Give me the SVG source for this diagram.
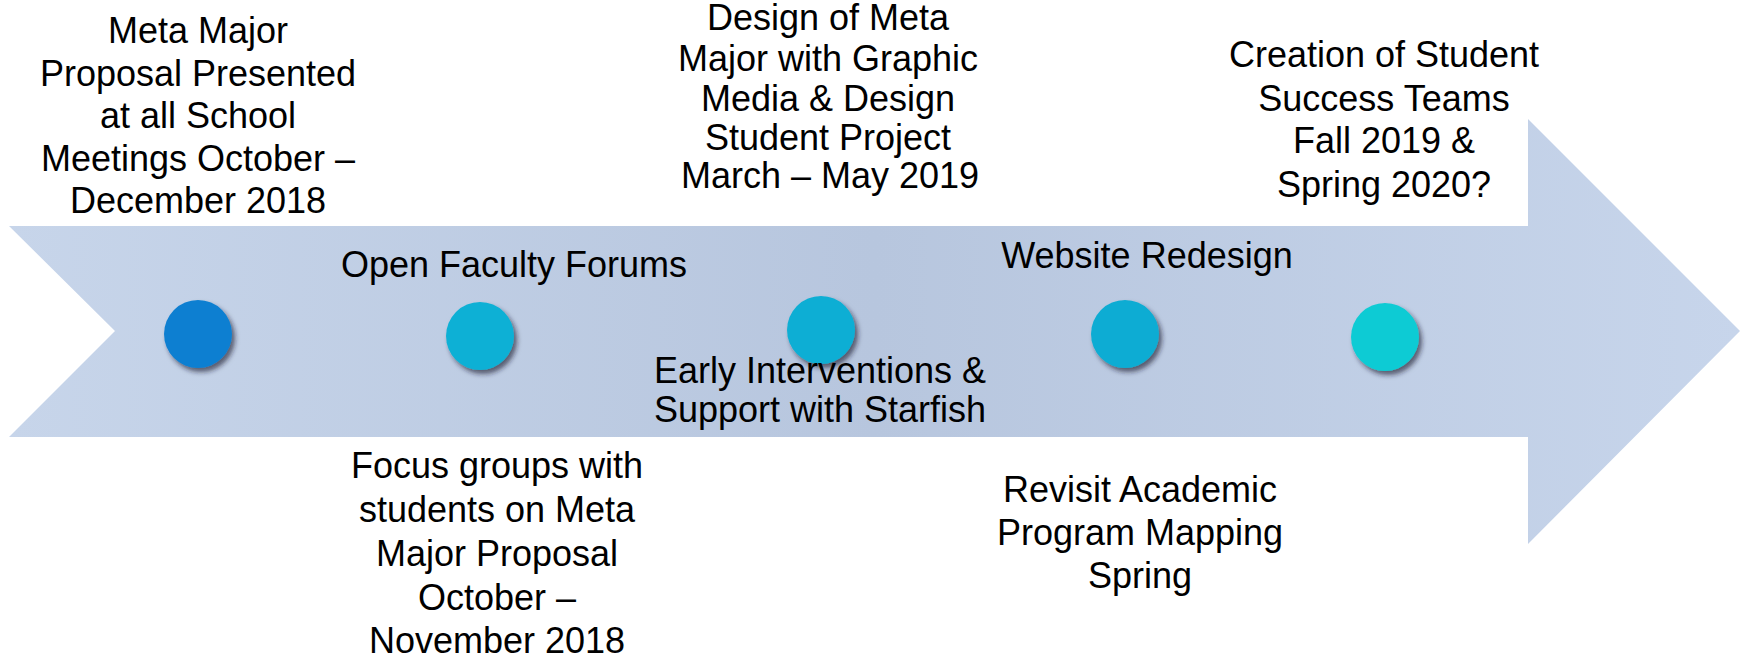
<svg xmlns="http://www.w3.org/2000/svg" width="1747" height="662" viewBox="0 0 1747 662">
  <defs>
    <linearGradient id="bandGrad" x1="0" y1="0" x2="1" y2="0">
      <stop offset="0" stop-color="#c7d5ea"/>
      <stop offset="0.5" stop-color="#b7c6de"/>
      <stop offset="1" stop-color="#c7d5eb"/>
    </linearGradient>
    <filter id="shadow" x="-30%" y="-30%" width="170%" height="170%">
      <feDropShadow dx="3" dy="4" stdDeviation="2.5" flood-color="#1f1f2e" flood-opacity="0.65"/>
    </filter>
    <style>
      .lbl { font-family: "Liberation Sans", Arial, sans-serif; font-size: 36px; fill: #000000; text-anchor: middle; }
      .dot { filter: url(#shadow); }
    </style>
  </defs>
  <rect width="1747" height="662" fill="#ffffff"/>

  <g id="timeline-arrow">
    <polygon points="9,226 1528,226 1528,119 1740,331 1528,544 1528,437 9,437 115,331" fill="url(#bandGrad)"/>
  </g>

  <g id="connectors"></g>

  <g id="marker-1"><circle class="dot" cx="198" cy="334" r="34" fill="#0e7fd1"/></g>
  <g id="marker-2"><circle class="dot" cx="480" cy="336" r="34" fill="#0fb0d5"/></g>
  <g id="marker-3"><circle class="dot" cx="821" cy="330" r="34" fill="#0eaed4"/></g>
  <g id="marker-4"><circle class="dot" cx="1125" cy="334" r="34" fill="#0eacd3"/></g>
  <g id="marker-5"><circle class="dot" cx="1385" cy="337" r="34" fill="#0ecbd4"/></g>

  <g id="label-proposal">
    <text class="lbl" x="198" y="43">Meta Major</text>
    <text class="lbl" x="198" y="85.5">Proposal Presented</text>
    <text class="lbl" x="198" y="128">at all School</text>
    <text class="lbl" x="198" y="170.5">Meetings October –</text>
    <text class="lbl" x="198" y="213">December 2018</text>
  </g>

  <g id="label-faculty-forums">
    <text class="lbl" x="514" y="277">Open Faculty Forums</text>
  </g>

  <g id="label-focus-groups">
    <text class="lbl" x="497" y="478">Focus groups with</text>
    <text class="lbl" x="497" y="522">students on Meta</text>
    <text class="lbl" x="497" y="566">Major Proposal</text>
    <text class="lbl" x="497" y="610">October –</text>
    <text class="lbl" x="497" y="653">November 2018</text>
  </g>

  <g id="label-design">
    <text class="lbl" x="828" y="30">Design of Meta</text>
    <text class="lbl" x="828" y="71">Major with Graphic</text>
    <text class="lbl" x="828" y="111">Media &amp; Design</text>
    <text class="lbl" x="828" y="150">Student Project</text>
    <text class="lbl" x="830" y="188">March – May 2019</text>
  </g>

  <g id="label-early-interventions">
    <text class="lbl" x="820" y="383">Early Interventions &amp;</text>
    <text class="lbl" x="820" y="422">Support with Starfish</text>
  </g>

  <g id="label-website">
    <text class="lbl" x="1147" y="268">Website Redesign</text>
  </g>

  <g id="label-program-mapping">
    <text class="lbl" x="1140" y="502">Revisit Academic</text>
    <text class="lbl" x="1140" y="545">Program Mapping</text>
    <text class="lbl" x="1140" y="588">Spring</text>
  </g>

  <g id="label-success-teams">
    <text class="lbl" x="1384" y="67">Creation of Student</text>
    <text class="lbl" x="1384" y="110.5">Success Teams</text>
    <text class="lbl" x="1384" y="153">Fall 2019 &amp;</text>
    <text class="lbl" x="1384" y="196.5">Spring 2020?</text>
  </g>
</svg>
